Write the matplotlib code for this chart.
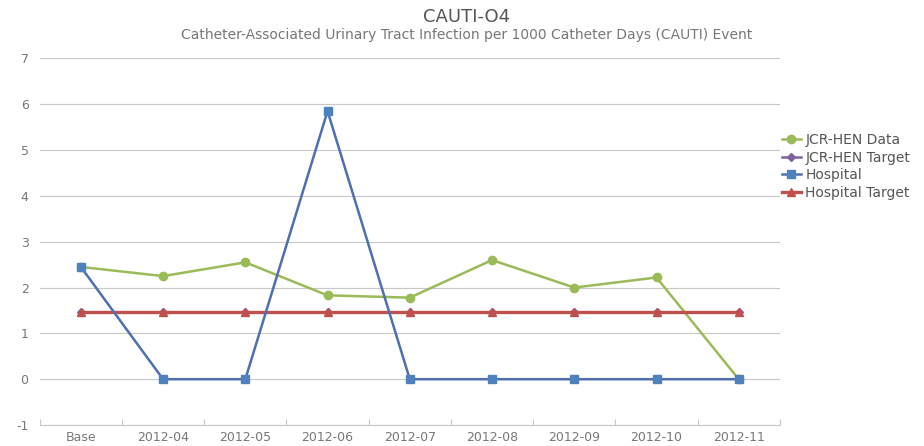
import numpy as np, matplotlib
matplotlib.use('Agg')
import matplotlib.pyplot as plt

categories = ['Base', '2012-04', '2012-05', '2012-06', '2012-07', '2012-08', '2012-09', '2012-10', '2012-11']
jcr_data = [2.45, 2.25, 2.55, 1.83, 1.78, 2.6, 2.0, 2.22, 0.0]
jcr_target = [1.47] * 9
hospital = [2.45, 0.0, 0.0, 5.85, 0.0, 0.0, 0.0, 0.0, 0.0]
hosp_target = [1.47] * 9

plt.rcParams['font.family'] = ['DejaVu Sans']
plt.rcParams['axes.unicode_minus'] = False
fig = plt.figure(figsize=(9.24, 4.46), dpi=100, facecolor='white')
ax = fig.add_axes([0.043, 0.047, 0.801, 0.823])

x = np.arange(len(categories))
ax.plot(x, jcr_data, color='#9BBB59', lw=1.8, marker='o', ms=6, label='JCR-HEN Data', zorder=3)
ax.plot(x, jcr_target, color='#8064A2', lw=1.8, marker='D', ms=4, label='JCR-HEN Target', zorder=1)
ax.plot(x, hospital, color='#4F6FB0', lw=1.8, marker='s', ms=6, mfc='#4F81BD', mec='#4F81BD', label='Hospital', zorder=4)
ax.plot(x, hosp_target, color='#C0504D', lw=2.4, marker='^', ms=5.5, label='Hospital Target', zorder=3)

ax.set_xlim(-0.5, 8.5)
ax.set_ylim(-1, 7.01)
ax.set_yticks(range(-1, 8))
ax.set_xticks(x)
ax.set_xticks(np.arange(-0.5, 9, 1), minor=True)
ax.set_xticklabels(categories)
ax.grid(axis='y', color='#c8c8c8', lw=0.8)
ax.set_axisbelow(True)
for s in ax.spines.values():
    s.set_visible(False)
ax.spines['bottom'].set_visible(True)
ax.spines['bottom'].set_color('#c8c8c8')
ax.spines['bottom'].set_linewidth(0.8)
ax.tick_params(axis='both', length=0, colors='#777777', labelsize=9)
ax.tick_params(axis='x', which='minor', length=4, direction='in', color='#c8c8c8', width=0.8)
ax.tick_params(axis='y', pad=8)
ax.tick_params(axis='x', which='major', pad=4)

fig.text(0.505, 0.962, 'CAUTI-O4', ha='center', va='center', fontsize=13, color='#555555')
fig.text(0.505, 0.921, 'Catheter-Associated Urinary Tract Infection per 1000 Catheter Days (CAUTI) Event',
         ha='center', va='center', fontsize=10, color='#777777')

ax.legend(loc='upper left', bbox_to_anchor=(0.996, 0.81), frameon=False, fontsize=10,
          handlelength=1.3, handletextpad=0.35, labelspacing=0.25, borderaxespad=0,
          labelcolor='#555555')

fig.savefig('out.png', dpi=100, facecolor='white')
